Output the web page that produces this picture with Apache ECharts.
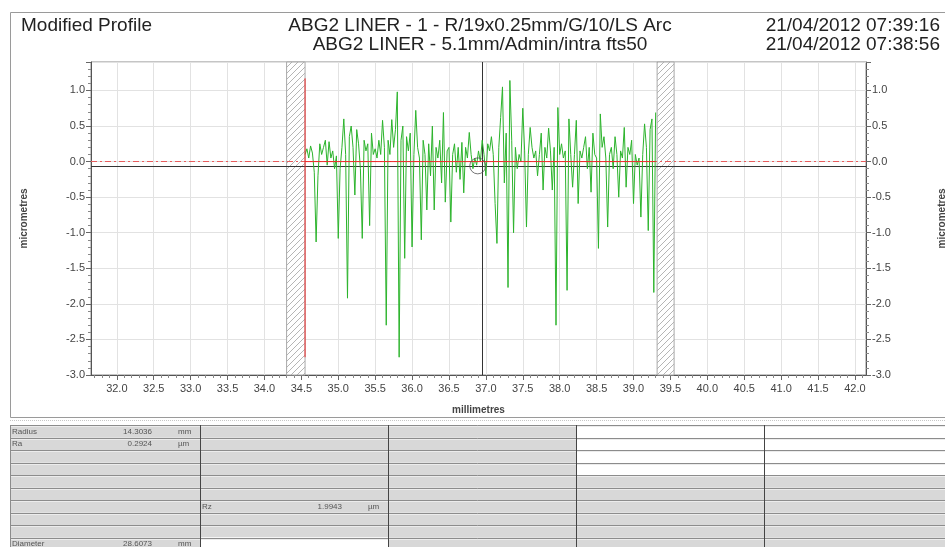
<!DOCTYPE html>
<html>
<head>
<meta charset="utf-8">
<script src="https://cdn.jsdelivr.net/npm/echarts@6/dist/echarts.min.js"></script>
<style>
html,body{margin:0;padding:0;background:#fff;}
#chart{width:945px;height:547px;}
</style>
</head>
<body>
<div id="chart"></div>
<script>
// ---------- data ----------
const titleLeft = 'Modified Profile';
const titleLines = ['ABG2 LINER - 1 - R/19x0.25mm/G/10/LS Arc', 'ABG2 LINER - 5.1mm/Admin/intra fts50'];
const dateLines = ['21/04/2012 07:39:16', '21/04/2012 07:38:56'];
const xAxisName = 'millimetres';
const yAxisName = 'micrometres';

const xMajorTicks = [32.0,32.5,33.0,33.5,34.0,34.5,35.0,35.5,36.0,36.5,37.0,37.5,38.0,38.5,39.0,39.5,40.0,40.5,41.0,41.5,42.0];
const xRange = [31.65, 42.15];
const yRange = [-3.0, 1.4];
const yInterval = 0.5;

// profile sampled every 0.025 mm from 34.55 mm
const profileStart = 34.55;
const profileStep = 0.025;
const profileValues = [
 0.10, 0.18, 0.05, 0.22, 0.12,-0.15,-1.13,-0.20, 0.25, 0.10,
 0.20, 0.30,-0.05, 0.28, 0.05, 0.15,-0.10, 0.08,-1.08,-0.10,
 0.20, 0.60, 0.10,-1.92, 0.35, 0.50, 0.20,-0.47, 0.45, 0.25,
-0.10,-1.08, 0.30, 0.15, 0.25,-0.90, 0.40, 0.10, 0.18, 0.05,
 0.30, 0.10, 0.58, 0.20,-2.30, 0.30, 0.10, 0.59, 0.20, 0.45,
 0.98,-2.75, 0.30, 0.50,-1.36, 0.35, 0.15, 0.40,-1.20, 0.10,
 0.72, 0.20, 0.05,-1.10, 0.30, 0.10,-0.68, 0.25,-0.20, 0.50,
-0.68, 0.20, 0.05, 0.30,-0.30, 0.69,-0.57, 0.15, 0.20,-0.85,
 0.10, 0.25,-0.15, 0.20,-0.25, 0.27,-0.44, 0.20, 0.05, 0.41,
 0.10,-0.10, 0.05,-0.05, 0.15, 0.00, 0.30, 0.10,-0.20, 0.25,
 0.15, 0.35, 0.10,-0.59,-1.15, 0.20, 0.62, 1.05,-0.30, 0.40,
-1.77, 1.14, 0.30,-1.00, 0.20,-0.10, 0.10, 0.00, 0.75, 0.15,
-0.92, 0.10, 0.48, 0.20, 0.05, 0.15,-0.20, 0.10, 0.40,-0.40,
 0.20, 0.05, 0.47, 0.15,-0.40, 0.20,-2.30, 0.76, 0.10, 0.25,
 0.05, 0.15,-1.81, 0.60, 0.10,-0.36, 0.10, 0.58,-0.59, 0.15,
 0.05, 0.20, 0.35,-0.10, 0.20,-0.43, 0.40, 0.10, 0.05,-1.22,
 0.67, 0.20, 0.35, 0.05,-0.92, 0.10, 0.20,-0.10, 0.35, 0.10,
-0.50, 0.15, 0.05, 0.48,-0.36, 0.20, 0.10, 0.30,-0.59, 0.10,
-0.05, 0.05,-0.78, 0.10, 0.53, 0.20,-0.97, 0.45, 0.60,-1.84,
 0.69
];

const excludedBands = [[34.30, 34.55], [39.32, 39.55]];
const redVertical = [[34.55, 1.17], [34.55, -2.75]];
const redBaseline = [[34.55, 0.0], [39.30, 0.0]];
const meanLineY = -0.06;
const zeroLineY = 0.0;
const cursorX = 36.95;
const cursorPoint = [[36.89, -0.06]];

const statLabels = ['Radius', 'Ra', 'Rz', 'Diameter'];
const statValues = ['14.3036', '0.2924', '1.9943', '28.6073'];
const statUnits = ['mm', 'µm', 'µm', 'mm'];

// ---------- build ----------
const FONT = '"Liberation Sans", Arial, sans-serif';
const profileData = profileValues.map((v, i) => [+(profileStart + i * profileStep).toFixed(3), v]);

const xMinorTicks = [];
for (let k = Math.ceil(xRange[0] * 10); k <= Math.floor(xRange[1] * 10); k++) {
  if (k % 5 !== 0) xMinorTicks.push(+(k / 10).toFixed(1));
}

function hatchCanvas() {
  const c = document.createElement('canvas');
  c.width = 6; c.height = 6;
  const g = c.getContext('2d');
  g.fillStyle = '#ffffff'; g.fillRect(0, 0, 6, 6);
  g.strokeStyle = '#b5b5b5'; g.lineWidth = 1;
  g.beginPath();
  g.moveTo(0, 6); g.lineTo(6, 0);
  g.moveTo(-1, 1); g.lineTo(1, -1);
  g.moveTo(5, 7); g.lineTo(7, 5);
  g.stroke();
  return c;
}

const chart = echarts.init(document.getElementById('chart'), null, {renderer: 'canvas'});

const yAxisCommon = {
  type: 'value', min: yRange[0], max: yRange[1], interval: yInterval,
  name: yAxisName, nameLocation: 'middle', nameRotate: 90,
  nameTextStyle: {fontSize: 10, color: '#444', fontFamily: FONT, fontWeight: 'bold'},
  axisLine: {show: true, onZero: false, lineStyle: {color: '#555', width: 1}},
  axisTick: {show: true, inside: false, length: 5, lineStyle: {color: '#666'}},
  minorTick: {show: true, splitNumber: 5, length: 3, lineStyle: {color: '#888'}},
  axisLabel: {fontSize: 11, color: '#444', fontFamily: FONT, margin: 6, showMaxLabel: false,
    formatter: v => v.toFixed(1)},
  minorSplitLine: {show: false}
};

// table layout
const tableTop = 425, rowH = 12.5, nRows = 10;
const colX = [10, 200, 388, 576, 764, 950];
const graphics = [];
// outer chart frame
graphics.push({type: 'rect', shape: {x: 10.5, y: 12.5, width: 940, height: 405},
  style: {fill: null, stroke: '#9a9a9a', lineWidth: 1}, z: 0});
graphics.push({type: 'line', shape: {x1: 10, y1: 420.5, x2: 945, y2: 420.5},
  style: {stroke: '#c8c8c8', lineWidth: 1, lineDash: [1, 1]}});
// table cells
for (let r = 0; r < nRows; r++) {
  for (let c = 0; c < 5; c++) {
    let fill = '#d8d8d8';
    if ((c === 3 || c === 4) && r < 4) fill = '#ffffff';
    if (c === 1 && r === 9) fill = '#ffffff';
    graphics.push({type: 'rect', shape: {x: colX[c], y: tableTop + r * rowH, width: colX[c + 1] - colX[c], height: rowH},
      style: {fill: fill, stroke: null}});
  }
  graphics.push({type: 'line', shape: {x1: colX[0], y1: Math.round(tableTop + r * rowH) + 0.5, x2: 945, y2: Math.round(tableTop + r * rowH) + 0.5},
    style: {stroke: '#8c8c8c', lineWidth: 1}});
  graphics.push({type: 'line', shape: {x1: colX[0], y1: Math.round(tableTop + r * rowH) + 1.5, x2: 945, y2: Math.round(tableTop + r * rowH) + 1.5},
    style: {stroke: '#ececec', lineWidth: 1}});
}
for (let c = 0; c < 5; c++) {
  graphics.push({type: 'line', shape: {x1: colX[c] + 0.5, y1: tableTop, x2: colX[c] + 0.5, y2: 547},
    style: {stroke: c === 0 ? '#8c8c8c' : '#444', lineWidth: 1}});
}
// table texts
const cellPos = [[0, 0], [0, 1], [1, 6], [0, 9]]; // [column, row]
statLabels.forEach((lab, i) => {
  const c = cellPos[i][0], r = cellPos[i][1];
  const cy = tableTop + r * rowH + rowH / 2 + 0.5;
  const x0 = colX[c];
  const txt = {fontSize: 8, fontFamily: FONT, fill: '#555', verticalAlign: 'middle'};
  graphics.push({type: 'text', x: x0 + 2, y: cy, style: Object.assign({text: lab, align: 'left'}, txt)});
  graphics.push({type: 'text', x: x0 + 142, y: cy, style: Object.assign({text: statValues[i], align: 'right'}, txt)});
  graphics.push({type: 'text', x: x0 + 168, y: cy, style: Object.assign({text: statUnits[i], align: 'left'}, txt)});
});
// header texts
graphics.push({type: 'text', x: 21, y: 26, style: {text: titleLeft, fontSize: 19, fontFamily: FONT, fill: '#222', align: 'left', verticalAlign: 'middle'}});
titleLines.forEach((t, i) => graphics.push({type: 'text', x: 480, y: 26 + i * 19,
  style: {text: t, fontSize: 19, fontFamily: FONT, fill: '#222', align: 'center', verticalAlign: 'middle'}}));
dateLines.forEach((t, i) => graphics.push({type: 'text', x: 940, y: 26 + i * 19,
  style: {text: t, fontSize: 19, fontFamily: FONT, fill: '#222', align: 'right', verticalAlign: 'middle'}}));

const option = {
  animation: false,
  backgroundColor: '#ffffff',
  grid: {left: 91, right: 79, top: 62, bottom: 172, show: true, borderColor: '#8a8a8a', borderWidth: 1,
    backgroundColor: 'transparent', containLabel: false, outerBoundsMode: 'none'},
  xAxis: [
    {
      type: 'value', min: xRange[0], max: xRange[1], position: 'bottom',
      name: xAxisName, nameLocation: 'middle', nameGap: 30,
      nameTextStyle: {fontSize: 10, color: '#444', fontFamily: FONT, fontWeight: 'bold'},
      axisLine: {show: true, onZero: false, lineStyle: {color: '#555'}},
      axisTick: {show: true, customValues: xMajorTicks, length: 5, lineStyle: {color: '#666'}},
      axisLabel: {customValues: xMajorTicks, fontSize: 11, color: '#444', fontFamily: FONT, margin: 8,
        formatter: v => v.toFixed(1)},
      splitLine: {show: true, lineStyle: {color: '#e2e2e2', width: 1}}
    },
    {
      type: 'value', min: xRange[0], max: xRange[1], position: 'bottom',
      axisLine: {show: false, onZero: false},
      axisTick: {show: true, customValues: xMinorTicks, length: 3, lineStyle: {color: '#888'}},
      axisLabel: {show: false},
      splitLine: {show: false}
    }
  ],
  yAxis: [
    Object.assign({}, yAxisCommon, {position: 'left', nameGap: 62,
      splitLine: {show: true, lineStyle: {color: '#e2e2e2', width: 1}}}),
    Object.assign({}, yAxisCommon, {position: 'right', nameGap: 71, splitLine: {show: false}})
  ],
  graphic: graphics,
  series: [
    {
      name: 'profile', type: 'line', data: profileData, xAxisIndex: 0, yAxisIndex: 0,
      showSymbol: false, symbol: 'none', z: 3,
      lineStyle: {color: '#2cb42c', width: 1},
      markArea: {
        silent: true, z: 1,
        itemStyle: {color: {image: hatchCanvas(), repeat: 'repeat'}, borderColor: '#a8a8a8', borderWidth: 1},
        label: {show: false},
        data: excludedBands.map(b => [{xAxis: b[0]}, {xAxis: b[1]}])
      }
    },
    {
      name: 'limit', type: 'line', data: redVertical, xAxisIndex: 0, yAxisIndex: 0,
      showSymbol: false, symbol: 'none', z: 4,
      lineStyle: {color: '#ee2a2a', width: 1},
      markLine: {
        silent: true, symbol: ['none', 'none'], label: {show: false}, z: 2,
        data: [
          {yAxis: zeroLineY, lineStyle: {color: '#e85c5c', width: 1, type: [6, 3, 2, 3]}},
          {yAxis: meanLineY, lineStyle: {color: '#333', width: 1, type: 'solid'}},
          {xAxis: cursorX, lineStyle: {color: '#333', width: 1, type: 'solid'}}
        ]
      }
    },
    {
      name: 'baseline', type: 'line', data: redBaseline, xAxisIndex: 0, yAxisIndex: 0,
      showSymbol: false, symbol: 'none', z: 4,
      lineStyle: {color: '#ee2a2a', width: 1}
    },
    {
      name: 'cursor', type: 'scatter', data: cursorPoint, xAxisIndex: 0, yAxisIndex: 0,
      symbol: 'circle', symbolSize: 16, z: 5,
      itemStyle: {color: 'rgba(0,0,0,0)', borderColor: '#555', borderWidth: 1}
    }
  ]
};
chart.setOption(option);
</script>
</body>
</html>
